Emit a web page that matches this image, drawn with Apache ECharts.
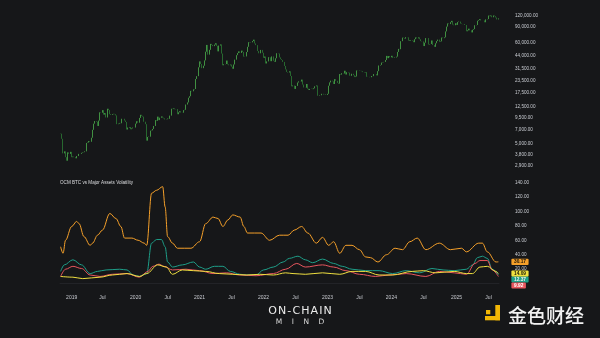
<!DOCTYPE html>
<html><head><meta charset="utf-8">
<script src="https://cdn.jsdelivr.net/npm/echarts@6/dist/echarts.min.js"></script>
<style>html,body{margin:0;padding:0;background:#161719;}#c{width:600px;height:338px;}</style>
</head><body><div id="c"></div>
<script>
// ---------- DATA ----------
const startDate = '2018-11-05';   // first weekly candle (Monday)
const firstOpen = 6400;
const btcWeeklyClose = [
  // 2018 (from Nov 5)
  6350,5600,3900,4100,3550,3250,4000,3850,4050,
  // 2019
  3550,3600,3550,3450,3650,3650,3850,3850,3950,4000,4020,4100,5050,5100,5300,5200,5750,7000,8150,8700,8550,7700,8800,10800,10700,11400,10200,10600,9500,11800,11400,10300,10100,10300,10400,10300,10000,8050,8150,8300,8230,9200,9200,8800,8500,7050,7400,7500,7100,7250,7400,7400,
  // 2020
  8150,8650,8350,9400,10150,9900,9700,8550,8050,5350,5850,5900,6850,6900,7150,7700,8900,8750,9700,8900,9450,9750,9450,9300,9050,9100,9250,9200,9950,11800,11700,11900,11650,11700,10300,10800,11100,10750,10700,11400,11500,13100,13800,15500,16100,18400,18200,19100,19250,24700,26500,33000,
  // 2021
  38200,35800,32300,34300,39200,48600,57500,45200,50900,59000,57500,55800,57900,60000,56200,49000,56600,58200,46400,34700,35600,35800,39000,35500,34700,35300,33500,31800,35400,39900,44600,47000,49000,47100,49900,48300,43000,43200,48200,54900,61500,60900,61300,63300,65500,59700,57200,49400,46700,46700,50800,47300,
  // 2022
  41800,43100,36300,38200,42400,42200,38400,43200,38800,37800,41300,46800,46400,42200,40400,39500,37700,34100,31300,29400,29000,29900,26600,20600,21000,19300,20800,20800,22600,23300,23200,24300,21500,20000,19900,21800,19400,18800,19300,19400,19200,19600,20600,21000,16300,16300,16500,17100,17100,16800,16840,16600,
  // 2023
  17100,20900,22700,23700,23300,21800,24600,23600,22400,22000,27900,27500,28500,28300,30300,27600,29200,28900,26800,26700,28100,27100,25900,26300,30500,30600,30300,30200,29900,29300,29000,29300,26100,26000,25800,25800,26600,26500,27900,27900,27000,30000,34500,35000,37100,37400,37700,39500,43800,41400,43600,42300,
  // 2024
  43900,41700,41600,42100,43000,48300,52100,51700,63100,68900,68300,67200,69700,69400,64000,64900,63400,63900,61500,66300,69300,67700,69300,66200,63200,62700,55900,60800,68100,68200,58100,58700,58900,64200,57300,54800,59900,63300,65600,62100,62800,69000,68000,69400,80400,90600,98000,96400,101100,104500,95200,93700,98400,
  // 2025
  94500,101300,102600,97700,96500,96200,96300,94200,80700,82600,86000,82600,78400,83700,85100,93700,94300,104700,106500,109000,105700,105700,105600,100900,108400,109200,119100,117300,119400,114200,119300,117400,113500,108200,111100
];
const priceTicks = [2900,3800,5000,7000,9500,12500,17500,23500,31500,44000,60000,90000,120000];
const volTicks = [20,40,60,80,100,120,140];

const volBTC = [
  ['2018-11-05',51],['2018-11-19',42],['2018-12-05',60],['2019-01-05',79],['2019-02-02',86],['2019-02-20',83],
  ['2019-03-20',65],['2019-04-20',53],['2019-05-08',56],['2019-06-05',67],['2019-07-01',74],['2019-08-10',97],
  ['2019-09-15',90],['2019-10-15',79],['2019-11-03',63],['2019-12-15',63],['2020-01-20',60],['2020-02-25',56],
  ['2020-03-08',53],['2020-04-05',125],['2020-05-01',129],['2020-06-10',134],['2020-06-20',106],['2020-07-08',65],
  ['2020-08-03',56],['2020-09-01',49],['2020-11-15',49],['2021-01-05',58],['2021-02-10',83],['2021-03-20',92],
  ['2021-04-20',90],['2021-05-15',79],['2021-06-15',88],['2021-07-12',95],['2021-08-20',92],['2021-09-15',79],
  ['2021-10-05',70],['2021-12-20',70],['2022-02-05',60],['2022-04-05',67],['2022-05-25',67],['2022-06-28',74],
  ['2022-08-05',79],['2022-09-12',70],['2022-10-30',56],['2022-12-05',64],['2023-01-12',53],['2023-02-03',58],
  ['2023-03-10',42],['2023-04-15',53],['2023-05-25',53],['2023-07-01',47],['2023-08-10',37],['2023-09-05',36],
  ['2023-10-15',30],['2023-12-01',40],['2024-01-25',49],['2024-03-05',47],['2024-04-12',58],['2024-05-30',63],
  ['2024-07-15',47],['2024-10-01',56],['2024-12-05',47],['2025-02-03',49],['2025-03-01',44],['2025-05-15',56],
  ['2025-06-03',56],['2025-07-01',44],['2025-08-18',30],['2025-09-01',30.17]
];
const volTeal = [
  ['2018-11-05',17],['2018-11-28',26],['2019-01-15',33],['2019-03-03',26],['2019-04-20',14],['2019-06-05',17],
  ['2019-07-22',19],['2019-10-05',20],['2019-11-15',19],['2019-12-20',12],['2020-01-25',10],['2020-03-08',14],
  ['2020-04-05',56],['2020-05-01',61],['2020-05-30',61],['2020-06-20',51],['2020-07-08',30],['2020-08-03',23],
  ['2020-10-01',26],['2020-11-28',30],['2021-01-05',23],['2021-02-10',20],['2021-03-28',24],['2021-05-15',24],
  ['2021-07-01',17],['2021-08-20',13],['2021-10-05',12],['2021-11-20',12],['2022-01-01',19],['2022-02-25',23],
  ['2022-04-22',30],['2022-05-30',35],['2022-07-15',38],['2022-09-01',33],['2022-10-10',29],['2022-12-05',34],
  ['2023-02-03',28],['2023-03-28',24],['2023-05-25',20],['2023-08-10',18],['2023-10-22',18],['2024-01-08',14],
  ['2024-03-25',18],['2024-06-10',15],['2024-08-22',21],['2024-10-20',19],['2024-12-20',18],['2025-03-01',20],
  ['2025-04-08',26],['2025-05-08',36],['2025-06-03',38],['2025-07-01',35],['2025-07-28',20],['2025-09-01',12.37]
];
const volRed = [
  ['2018-11-05',10],['2018-12-05',20],['2019-01-15',24],['2019-03-03',21],['2019-04-20',12],['2019-06-15',10],
  ['2019-08-28',13],['2019-11-15',14],['2020-01-25',9],['2020-03-15',17],['2020-04-10',24],['2020-05-15',27],
  ['2020-06-15',24],['2020-08-03',19],['2020-10-20',20],['2021-01-05',18],['2021-03-20',14],['2021-06-05',15],
  ['2021-08-20',12],['2021-11-20',11],['2022-02-25',14],['2022-05-10',20],['2022-07-10',28],['2022-09-01',23],
  ['2022-12-05',26],['2023-02-03',23],['2023-04-15',18],['2023-07-01',13],['2023-10-05',10],['2023-12-20',12],
  ['2024-03-25',14],['2024-07-15',10],['2024-10-01',17],['2024-12-20',15],['2025-03-01',13],['2025-04-22',28],
  ['2025-05-22',32],['2025-07-01',32],['2025-07-28',19],['2025-09-01',9.92]
];
const volYellow = [
  ['2018-11-05',10],['2019-01-15',9],['2019-03-10',7],['2019-06-15',9],['2019-08-28',12],['2019-11-15',14],
  ['2020-01-25',10],['2020-03-08',14],['2020-05-10',26],['2020-06-28',23],['2020-08-03',13],['2020-10-01',19],
  ['2020-11-28',18],['2021-02-10',17],['2021-04-25',14],['2021-07-12',13],['2021-09-25',12],['2021-12-10',13],
  ['2022-02-25',12],['2022-05-10',15],['2022-06-20',14],['2022-09-01',13],['2022-12-05',15],['2023-03-10',13],
  ['2023-05-25',17],['2023-08-10',17],['2023-10-22',12],['2024-01-08',12],['2024-05-01',17],['2024-06-28',18],
  ['2024-09-12',15],['2024-12-20',17],['2025-03-01',14],['2025-04-08',14],['2025-05-22',23],['2025-07-01',24],
  ['2025-08-18',17],['2025-09-01',14.09]
];

// ---------- BUILD ----------
const DAY = 86400000;
const t0 = Date.parse(startDate + 'T00:00:00Z');
const n = btcWeeklyClose.length;
const categories = btcWeeklyClose.map((_, i) => new Date(t0 + i * 7 * DAY).toISOString().slice(0, 10));
const candles = btcWeeklyClose.map((c, i) => {
  const o = i ? btcWeeklyClose[i - 1] : firstOpen;
  return [Math.log10(o), Math.log10(c), Math.log10(Math.min(o, c)), Math.log10(Math.max(o, c))];
});
function toIdx(d) {
  const k = Math.round((Date.parse(d + 'T00:00:00Z') - t0) / (7 * DAY));
  return Math.max(0, Math.min(n - 1, k));
}
function fmtPrice(v) {
  const p = Math.round(Math.pow(10, v));
  return p.toString().replace(/\B(?=(\d{3})+(?!\d))/g, ',') + '.00';
}
const FONT = 'Liberation Sans, Arial, sans-serif';
const LABEL = '#c9ccd2';

const volSpecs = [
  { name: 'BTC', data: volBTC, color: '#f5a02a', text: '#1a1208', dy: 0 },
  { name: 'Asset A', data: volTeal, color: '#1e9e88', text: '#f0f0f0', dy: 4.6 },
  { name: 'Asset B', data: volRed, color: '#e8565e', text: '#ffffff', dy: 9 },
  { name: 'Asset C', data: volYellow, color: '#f0e040', text: '#1a1a08', dy: 0 }
];

const volSeries = volSpecs.map(s => {
  const last = s.data[s.data.length - 1];
  return {
    name: s.name, type: 'line', xAxisIndex: 1, yAxisIndex: 1,
    data: s.data.map(([d, v]) => [toIdx(d), v]),
    smooth: 0.35, smoothMonotone: 'x', symbol: 'none',
    lineStyle: { color: s.color, width: 1 }, itemStyle: { color: s.color },
    z: s.name === 'BTC' ? 3 : 2,
    markPoint: {
      symbol: 'circle', symbolSize: 0, silent: true,
      data: [{ coord: [toIdx(last[0]), last[1]], value: last[1] }],
      label: {
        show: true, position: 'right', offset: [8, s.dy],
        formatter: () => last[1].toFixed(2),
        backgroundColor: s.color, color: s.text, fontSize: 4.8, fontFamily: FONT,
        padding: [0.8, 2.6, 0.4, 2.6], borderRadius: 1, fontWeight: 'bold'
      }
    }
  };
});

const H = '\u200A';
const chart = echarts.init(document.getElementById('c'), null, { renderer: 'canvas', width: 600, height: 338 });
chart.setOption({
  backgroundColor: '#161719',
  animation: false,
  title: [{
    text: 'OCM BTC vs Major Assets Volatility', left: 60, top: 180, padding: 0,
    textStyle: { color: '#dcdde0', fontSize: 4.6, fontWeight: 'normal', fontFamily: FONT }
  }],
  grid: [
    { left: 60, right: 101, top: 8.7, height: 162.4 },
    { left: 60, right: 101, top: 175.1, height: 108.6 }
  ],
  xAxis: [
    { type: 'category', gridIndex: 0, data: categories, boundaryGap: true,
      axisLine: { show: false }, axisTick: { show: false }, axisLabel: { show: false }, splitLine: { show: false } },
    { type: 'category', gridIndex: 1, data: categories, boundaryGap: true,
      axisLine: { show: true, lineStyle: { color: '#222327', width: 1 } }, axisTick: { show: false },
      splitLine: { show: false },
      axisLabel: {
        color: LABEL, fontSize: 5, fontFamily: FONT, margin: 11,
        interval: (i, v) => { const d = new Date(v + 'T00:00:00Z'); return (d.getUTCMonth() === 0 || d.getUTCMonth() === 6) && d.getUTCDate() <= 7; },
        formatter: v => { const d = new Date(v + 'T00:00:00Z'); return d.getUTCMonth() === 0 ? String(d.getUTCFullYear()) : 'Jul'; }
      } }
  ],
  yAxis: [
    { type: 'value', gridIndex: 0, position: 'right', min: 3.40, max: 5.15,
      axisLine: { show: false }, axisTick: { show: false }, splitLine: { show: false },
      axisLabel: { customValues: priceTicks.map(p => Math.log10(p)), formatter: fmtPrice,
        color: LABEL, fontSize: 4.6, fontFamily: FONT, margin: 16 } },
    { type: 'value', gridIndex: 1, position: 'right', min: 0, max: 150,
      axisLine: { show: false }, axisTick: { show: false }, splitLine: { show: false },
      axisLabel: { customValues: volTicks, formatter: v => v.toFixed(2),
        color: LABEL, fontSize: 4.6, fontFamily: FONT, margin: 16 } }
  ],
  series: [
    { name: 'BTC', type: 'candlestick', xAxisIndex: 0, yAxisIndex: 0, data: candles, barWidth: 1,
      itemStyle: { color: '#55c455', color0: '#2f8a3a', borderColor: '#55c455', borderColor0: '#2f8a3a', borderWidth: 0.7 } }
  ].concat(volSeries),
  graphic: [
    { type: 'text', left: 'center', top: 305.5, style: { text: ['O','N','-','C','H','A','I','N'].join(H), fill: '#ededed', font: '500 11px "DejaVu Sans", sans-serif' } },
    { type: 'text', left: 'center', top: 318.5, style: { text: 'M    I    N    D', fill: '#d8d8d8', font: '7.5px "DejaVu Sans", sans-serif' } },
    { type: 'rect', shape: { x: 486, y: 310, width: 4.3, height: 4.3 }, style: { fill: '#f2b705' } },
    { type: 'rect', shape: { x: 495.3, y: 305, width: 4.7, height: 15.3 }, style: { fill: '#f2b705' } },
    { type: 'rect', shape: { x: 485, y: 316, width: 15, height: 4.3 }, style: { fill: '#f2b705' } },
    { type: 'text', left: 508, top: 306, style: { text: '金色财经', fill: '#f2f2f2', font: '500 19px "Noto Sans CJK SC", sans-serif' } }
  ]
});
</script></body></html>
